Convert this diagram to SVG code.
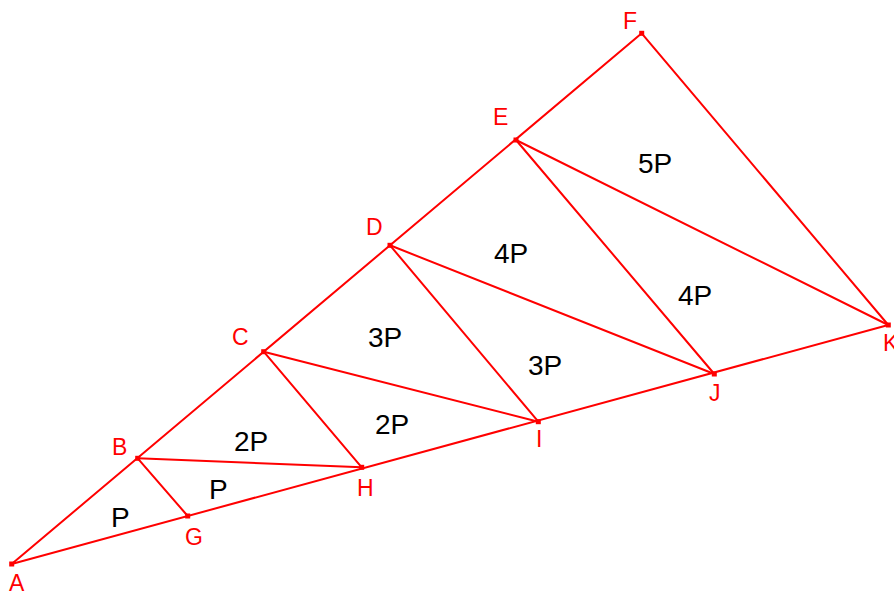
<svg xmlns="http://www.w3.org/2000/svg" width="894" height="596" viewBox="0 0 894 596">
<style>
.e{stroke:#ff0000;stroke-width:2;fill:none;stroke-linecap:round}
.pt{fill:#ff0000}
.vl{font-family:"Liberation Sans",Arial,sans-serif;font-size:23px;fill:#ff0000}
.al{font-family:"Liberation Sans",Arial,sans-serif;font-size:28px;fill:#000000}
</style>
<rect width="894" height="596" fill="#ffffff"/>
<g id="connectors">
<line class="e" x1="11.7" y1="564" x2="641.7" y2="33.3"/>
<line class="e" x1="11.7" y1="564" x2="888.3" y2="325"/>
<line class="e" x1="137.7" y1="458.3" x2="187.7" y2="516"/>
<line class="e" x1="137.7" y1="458.3" x2="361.7" y2="467.3"/>
<line class="e" x1="263.7" y1="351.7" x2="361.7" y2="467.3"/>
<line class="e" x1="263.7" y1="351.7" x2="538.3" y2="421.7"/>
<line class="e" x1="390" y1="245.3" x2="538.3" y2="421.7"/>
<line class="e" x1="390" y1="245.3" x2="714.3" y2="374"/>
<line class="e" x1="516" y1="140" x2="714.3" y2="374"/>
<line class="e" x1="516" y1="140" x2="888.3" y2="325"/>
<line class="e" x1="641.7" y1="33.3" x2="888.3" y2="325"/>
</g>
<g id="A"><rect class="pt" x="9.2" y="561.5" width="5" height="5"/><text class="vl" x="9" y="591">A</text></g>
<g id="B"><rect class="pt" x="135.2" y="455.8" width="5" height="5"/><text class="vl" x="112" y="455">B</text></g>
<g id="C"><rect class="pt" x="261.2" y="349.2" width="5" height="5"/><text class="vl" x="232" y="345">C</text></g>
<g id="D"><rect class="pt" x="387.5" y="242.8" width="5" height="5"/><text class="vl" x="366" y="235">D</text></g>
<g id="E"><rect class="pt" x="513.5" y="137.5" width="5" height="5"/><text class="vl" x="493" y="125">E</text></g>
<g id="F"><rect class="pt" x="639.2" y="30.8" width="5" height="5"/><text class="vl" x="623" y="29">F</text></g>
<g id="G"><rect class="pt" x="185.2" y="513.5" width="5" height="5"/><text class="vl" x="185" y="545">G</text></g>
<g id="H"><rect class="pt" x="359.2" y="464.8" width="5" height="5"/><text class="vl" x="357" y="496">H</text></g>
<g id="I"><rect class="pt" x="535.8" y="419.2" width="5" height="5"/><text class="vl" x="536" y="447">I</text></g>
<g id="J"><rect class="pt" x="711.8" y="371.5" width="5" height="5"/><text class="vl" x="709" y="401">J</text></g>
<g id="K"><rect class="pt" x="885.8" y="322.5" width="5" height="5"/><text class="vl" x="883" y="351">K</text></g>
<g id="areas">
<text class="al" x="111" y="527">P</text>
<text class="al" x="209" y="499">P</text>
<text class="al" x="234" y="451">2P</text>
<text class="al" x="375" y="434">2P</text>
<text class="al" x="368" y="347">3P</text>
<text class="al" x="528" y="375">3P</text>
<text class="al" x="494" y="263">4P</text>
<text class="al" x="678" y="305">4P</text>
<text class="al" x="638" y="173">5P</text>
</g>
</svg>
